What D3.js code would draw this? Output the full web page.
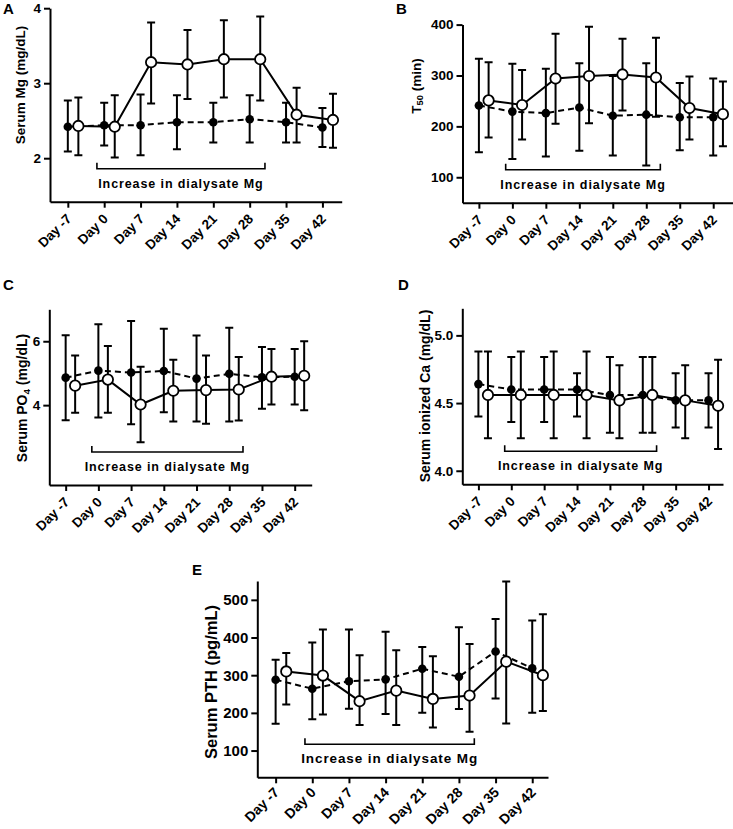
<!DOCTYPE html>
<html>
<head>
<meta charset="utf-8">
<script src="https://cdn.jsdelivr.net/npm/d3@7"></script>
<style>
  html, body { margin: 0; padding: 0; background: #fff; }
  svg text { font-family: "Liberation Sans", Arial, sans-serif; font-weight: bold; fill: #000; }
</style>
</head>
<body>
<div id="vis"></div>
<script>
// x categories (same for all panels)
var days = ["Day -7", "Day 0", "Day 7", "Day 14", "Day 21", "Day 28", "Day 35", "Day 42"];

// A - serum Mg (mg/dL); ctrl = filled/dashed, incr = open/solid
var mgCtrl      = [2.42, 2.44, 2.44, 2.48, 2.48, 2.52, 2.48, 2.41];
var mgCtrlLow   = [2.09, 2.17, 2.04, 2.12, 2.21, 2.21, 2.21, 2.15];
var mgCtrlHigh  = [2.77, 2.74, 2.85, 2.84, 2.74, 2.84, 2.74, 2.67];
var mgIncr      = [2.43, 2.42, 3.28, 3.25, 3.32, 3.32, 2.58, 2.51];
var mgIncrLow   = [2.04, 2.01, 2.73, 2.79, 2.81, 2.77, 2.21, 2.14];
var mgIncrHigh  = [2.81, 2.84, 3.81, 3.71, 3.84, 3.89, 2.94, 2.86];
var mgTicks     = [2, 3, 4];

// B - T50 (min)
var t50Ctrl     = [241, 229, 226, 237, 221, 223, 218, 218];
var t50CtrlLow  = [149, 136, 141, 152, 143, 123, 153, 143];
var t50CtrlHigh = [333, 323, 313, 324, 299, 324, 285, 294];
var t50Incr     = [251, 242, 294, 299, 302, 296, 236, 224];
var t50IncrLow  = [178, 174, 205, 206, 231, 219, 174, 161];
var t50IncrHigh = [326, 311, 382, 396, 372, 374, 298, 288];
var t50Ticks    = [100, 200, 300, 400];

// C - serum PO4 (mg/dL)
var po4Ctrl     = [4.86, 5.08, 5.02, 5.07, 4.83, 4.98, 4.87, 4.89];
var po4CtrlLow  = [3.53, 3.61, 3.40, 3.78, 3.49, 3.49, 3.89, 4.02];
var po4CtrlHigh = [6.19, 6.53, 6.63, 6.39, 6.18, 6.42, 5.82, 5.76];
var po4Incr     = [4.61, 4.80, 4.02, 4.45, 4.47, 4.49, 4.89, 4.92];
var po4IncrLow  = [3.76, 3.76, 2.84, 3.49, 3.42, 3.52, 4.02, 3.84];
var po4IncrHigh = [5.55, 5.85, 5.20, 5.42, 5.55, 5.51, 5.76, 6.00];
var po4Ticks    = [4, 6];

// D - serum ionized Ca (mg/dL)
var caCtrl      = [4.64, 4.60, 4.60, 4.60, 4.56, 4.56, 4.52, 4.52];
var caCtrlLow   = [4.40, 4.36, 4.36, 4.40, 4.28, 4.28, 4.32, 4.32];
var caCtrlHigh  = [4.88, 4.84, 4.84, 4.72, 4.84, 4.84, 4.72, 4.72];
var caIncr      = [4.56, 4.56, 4.56, 4.56, 4.52, 4.56, 4.52, 4.48];
var caIncrLow   = [4.24, 4.24, 4.24, 4.24, 4.24, 4.28, 4.24, 4.16];
var caIncrHigh  = [4.88, 4.88, 4.88, 4.88, 4.78, 4.84, 4.78, 4.82];
var caTicks     = [4.0, 4.5, 5.0];

// E - serum PTH (pg/mL)
var pthCtrl     = [288, 264, 284, 289, 317, 296, 363, 318];
var pthCtrlLow  = [171, 183, 211, 197, 200, 210, 238, 200];
var pthCtrlHigh = [341, 387, 421, 415, 375, 427, 449, 445];
var pthIncr     = [310, 299, 231, 259, 237, 246, 336, 300];
var pthIncrLow  = [222, 196, 168, 168, 161, 150, 172, 205];
var pthIncrHigh = [359, 421, 353, 366, 350, 383, 549, 462];
var pthTicks    = [100, 200, 300, 400, 500];

var bracketLabel = "Increase in dialysate Mg";
var bracketFrom = 0.8, bracketTo = 5.42;   // in day-index units
var openShift = 0.29;                      // open symbols sit right of the tick

var svg = d3.select("#vis").append("svg")
    .attr("width", 733)
    .attr("height", 829);

function series(mean, lo, hi, shift) {
    return mean.map(function (m, i) { return { i: i + shift, m: m, lo: lo[i], hi: hi[i] }; });
}

function drawPanel(p) {
    var x = d3.scaleLinear().domain(p.xDomain).range([p.left, p.right]);
    var y = d3.scaleLinear().domain(p.yDomain).range([p.bottom, p.top]);
    var g = svg.append("g");

    // panel letter
    g.append("text").attr("x", p.letter[0]).attr("y", p.letter[1])
        .attr("font-size", "15px").text(p.name);

    // Y axis
    var ya = g.append("g")
        .attr("transform", "translate(" + p.left + ",0)")
        .call(d3.axisLeft(y).tickValues(p.ticks).tickSize(6).tickSizeOuter(0).tickPadding(3)
            .tickFormat(p.fmt));
    ya.selectAll("text").attr("font-size", p.tickFont);

    // X axis, labels turned 45 degrees
    var xa = g.append("g")
        .attr("transform", "translate(0," + p.bottom + ")")
        .call(d3.axisBottom(x).tickValues(d3.range(days.length)).tickSize(6).tickSizeOuter(0)
            .tickFormat(function (i) { return days[i]; }));
    xa.selectAll("text")
        .attr("x", 0).attr("y", 0).attr("dy", 0)
        .attr("text-anchor", "end")
        .attr("font-size", p.xFont)
        .attr("transform", "translate(4," + (p.labelDrop) + ") rotate(-45)");

    g.selectAll(".domain").attr("stroke", "#000").attr("stroke-width", 2);
    g.selectAll(".tick line").attr("stroke", "#000").attr("stroke-width", 2);

    // y title
    var t = g.append("text")
        .attr("transform", "translate(" + p.title[0] + "," + p.title[1] + ") rotate(-90)")
        .attr("text-anchor", "middle")
        .attr("dy", "0.35em")
        .attr("font-size", p.titleFont);
    p.titleParts.forEach(function (part) {
        var ts = t.append("tspan").text(part[0]);
        if (part[1]) ts.attr("font-size", "0.7em").attr("baseline-shift", "-25%");
    });

    // bracket
    var by = p.bottom - 33;
    g.append("path")
        .attr("d", "M" + x(bracketFrom) + "," + (by - 6) + "V" + by + "H" + x(bracketTo) + "V" + (by - 6))
        .attr("fill", "none").attr("stroke", "#000").attr("stroke-width", 1.6);
    g.append("text")
        .attr("x", (x(bracketFrom) + x(bracketTo)) / 2)
        .attr("y", p.bottom - 14)
        .attr("text-anchor", "middle")
        .attr("font-size", p.bracketFont)
        .attr("letter-spacing", "0.9px")
        .text(bracketLabel);

    var ctrl = series(p.ctrl[0], p.ctrl[1], p.ctrl[2], 0);
    var incr = series(p.incr[0], p.incr[1], p.incr[2], openShift);

    // error bars
    [ctrl, incr].forEach(function (s) {
        var eb = g.append("g").attr("stroke", "#000").attr("stroke-width", 2).attr("fill", "none");
        eb.selectAll("path").data(s).enter().append("path")
            .attr("d", function (d) {
                var cx = x(d.i), w = 4;
                return "M" + cx + "," + y(d.hi) + "V" + y(d.lo) +
                    "M" + (cx - w) + "," + y(d.hi) + "H" + (cx + w) +
                    "M" + (cx - w) + "," + y(d.lo) + "H" + (cx + w);
            });
    });

    var line = d3.line().x(function (d) { return x(d.i); }).y(function (d) { return y(d.m); });
    g.append("path").datum(ctrl).attr("d", line)
        .attr("fill", "none").attr("stroke", "#000").attr("stroke-width", 2)
        .attr("stroke-dasharray", "6,4");
    g.append("path").datum(incr).attr("d", line)
        .attr("fill", "none").attr("stroke", "#000").attr("stroke-width", 2);

    g.selectAll("circle.ctrl").data(ctrl).enter().append("circle")
        .attr("class", "ctrl")
        .attr("cx", function (d) { return x(d.i); })
        .attr("cy", function (d) { return y(d.m); })
        .attr("r", 4.3).attr("fill", "#000");
    g.selectAll("circle.incr").data(incr).enter().append("circle")
        .attr("class", "incr")
        .attr("cx", function (d) { return x(d.i); })
        .attr("cy", function (d) { return y(d.m); })
        .attr("r", 5.2).attr("fill", "#fff").attr("stroke", "#000").attr("stroke-width", 1.8);
}

var panels = [
    { name: "A", letter: [3, 14], left: 50, right: 341.7, top: 8.2, bottom: 201.7,
      xDomain: [-0.49, 7.53], yDomain: [1.42, 4], ticks: mgTicks, fmt: d3.format("d"),
      title: [20.7, 85], titleFont: "13.5px", titleParts: [["Serum Mg (mg/dL)"]],
      tickFont: "13.5px", xFont: "13.5px", bracketFont: "12.5px", labelDrop: 18,
      ctrl: [mgCtrl, mgCtrlLow, mgCtrlHigh], incr: [mgIncr, mgIncrLow, mgIncrHigh] },
    { name: "B", letter: [396, 14], left: 462.5, right: 733.3, top: 24.6, bottom: 202.7,
      xDomain: [-0.49, 7.6], yDomain: [50, 400], ticks: t50Ticks, fmt: d3.format("d"),
      title: [416.7, 86], titleFont: "13.5px", titleParts: [["T"], ["50", true], [" (min)"]],
      tickFont: "13.5px", xFont: "13.5px", bracketFont: "12.5px", labelDrop: 18,
      ctrl: [t50Ctrl, t50CtrlLow, t50CtrlHigh], incr: [t50Incr, t50IncrLow, t50IncrHigh] },
    { name: "C", letter: [3, 290], left: 49.3, right: 311.7, top: 309.3, bottom: 485,
      xDomain: [-0.5, 7.52], yDomain: [1.5, 7], ticks: po4Ticks, fmt: d3.format("d"),
      title: [21.7, 398], titleFont: "14px", titleParts: [["Serum PO"], ["4", true], [" (mg/dL)"]],
      tickFont: "13.5px", xFont: "13.5px", bracketFont: "12.5px", labelDrop: 18,
      ctrl: [po4Ctrl, po4CtrlLow, po4CtrlHigh], incr: [po4Incr, po4IncrLow, po4IncrHigh] },
    { name: "D", letter: [398, 290], left: 462.3, right: 723, top: 308.3, bottom: 484.3,
      xDomain: [-0.49, 7.44], yDomain: [3.9, 5.2], ticks: caTicks, fmt: d3.format(".1f"),
      title: [425, 396], titleFont: "14px", titleParts: [["Serum ionized Ca (mg/dL)"]],
      tickFont: "13.5px", xFont: "13.5px", bracketFont: "12.5px", labelDrop: 18,
      ctrl: [caCtrl, caCtrlLow, caCtrlHigh], incr: [caIncr, caIncrLow, caIncrHigh] },
    { name: "E", letter: [192, 575], left: 257.3, right: 548, top: 581, bottom: 777.3,
      xDomain: [-0.5, 7.43], yDomain: [29, 550], ticks: pthTicks, fmt: d3.format("d"),
      title: [211.7, 682], titleFont: "16.5px", titleParts: [["Serum PTH (pg/mL)"]],
      tickFont: "15px", xFont: "14px", bracketFont: "13.5px", labelDrop: 16,
      ctrl: [pthCtrl, pthCtrlLow, pthCtrlHigh], incr: [pthIncr, pthIncrLow, pthIncrHigh] }
];

panels.forEach(drawPanel);
</script>
</body>
</html>
